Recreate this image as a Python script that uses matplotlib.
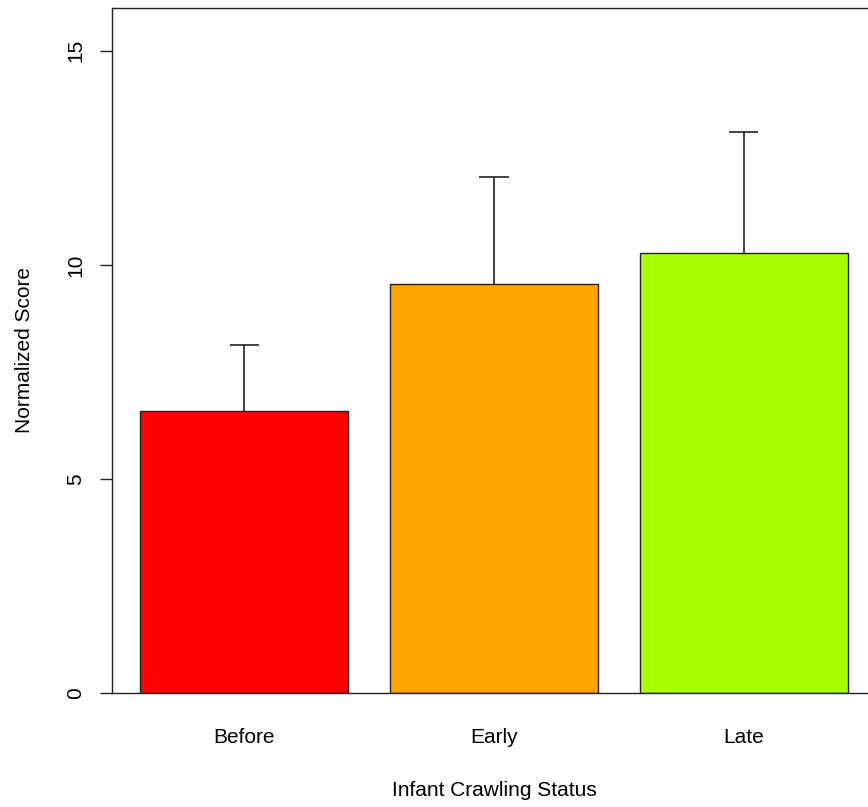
import matplotlib.pyplot as plt
import numpy as np

plt.rcParams['font.family'] = ['Liberation Sans', 'DejaVu Sans']

groups = ['Before', 'Early', 'Late']
means = [6.59, 9.56, 10.28]
upper = [8.13, 12.06, 13.11]
colors = ['#FF0000', '#FFA500', '#AAFF00']

# R barplot layout: width 1, space 0.2
pos = 0.7 + 1.2 * np.arange(len(groups))

fig = plt.figure(figsize=(8.68, 8.07), dpi=100)
ax = fig.add_axes([112 / 868, 1 - 693 / 807, (876 - 112) / 868, (693 - 8) / 807])

ax.bar(pos, means, width=1.0, color=colors, edgecolor='#222222', linewidth=1.0, zorder=2)
# upper error bars only (arrows() style)
ax.vlines(pos, means, upper, color='#222222', linewidth=1.2, zorder=3)
ax.hlines(upper, pos - 0.07, pos + 0.07, color='#222222', linewidth=1.2, zorder=3)

ax.set_xlim(0.064, 3.736)
ax.set_ylim(0, 16)
ax.set_yticks([0, 5, 10, 15])
ax.set_xticks(pos)
ax.set_xticklabels(groups, fontsize=15)
ax.tick_params(axis='x', length=0, pad=25)
ax.tick_params(axis='y', length=8.6, width=1.0, pad=10.5, labelsize=15, color='#222222')
for lab in ax.get_yticklabels():
    lab.set_rotation(90)
    lab.set_va('center')

for s in ax.spines.values():
    s.set_color('#222222')
    s.set_linewidth(1.0)

fig.text(494 / 868, 1 - 790 / 807, 'Infant Crawling Status', fontsize=15, ha='center', va='center')
fig.text(25 / 868, 1 - 350 / 807, 'Normalized Score', fontsize=15, ha='center', va='center', rotation=90)

plt.savefig('out.png', dpi=100)
